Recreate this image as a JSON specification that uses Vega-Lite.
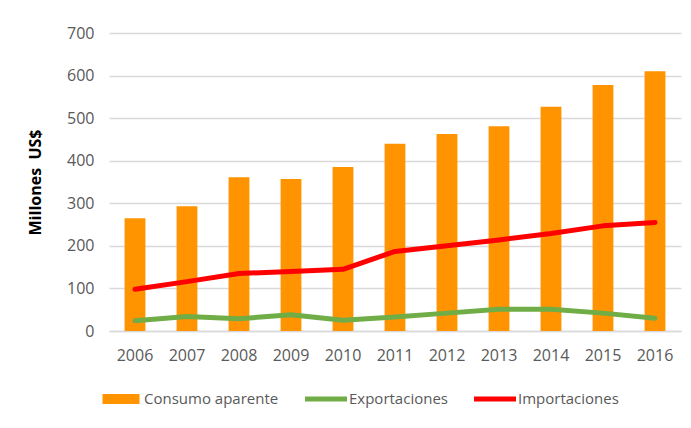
{
  "$schema": "https://vega.github.io/schema/vega-lite/v6.json",
  "width": 572,
  "height": 298,
  "autosize": {"type": "none"},
  "padding": {"left": 109, "top": 33, "right": 10, "bottom": 97},
  "background": "white",
  "config": {
    "view": {"stroke": null},
    "font": "Open Sans"
  },
  "data": {
    "values": [
      {"year": "2006", "series": "Consumo aparente", "value": 265},
      {"year": "2007", "series": "Consumo aparente", "value": 293},
      {"year": "2008", "series": "Consumo aparente", "value": 361},
      {"year": "2009", "series": "Consumo aparente", "value": 357},
      {"year": "2010", "series": "Consumo aparente", "value": 385},
      {"year": "2011", "series": "Consumo aparente", "value": 440},
      {"year": "2012", "series": "Consumo aparente", "value": 463},
      {"year": "2013", "series": "Consumo aparente", "value": 481},
      {"year": "2014", "series": "Consumo aparente", "value": 527},
      {"year": "2015", "series": "Consumo aparente", "value": 578},
      {"year": "2016", "series": "Consumo aparente", "value": 610},
      {"year": "2006", "series": "Exportaciones", "value": 24},
      {"year": "2007", "series": "Exportaciones", "value": 34},
      {"year": "2008", "series": "Exportaciones", "value": 29},
      {"year": "2009", "series": "Exportaciones", "value": 38},
      {"year": "2010", "series": "Exportaciones", "value": 25},
      {"year": "2011", "series": "Exportaciones", "value": 33},
      {"year": "2012", "series": "Exportaciones", "value": 42},
      {"year": "2013", "series": "Exportaciones", "value": 51},
      {"year": "2014", "series": "Exportaciones", "value": 51},
      {"year": "2015", "series": "Exportaciones", "value": 42},
      {"year": "2016", "series": "Exportaciones", "value": 30},
      {"year": "2006", "series": "Importaciones", "value": 98},
      {"year": "2007", "series": "Importaciones", "value": 116},
      {"year": "2008", "series": "Importaciones", "value": 135},
      {"year": "2009", "series": "Importaciones", "value": 140},
      {"year": "2010", "series": "Importaciones", "value": 145},
      {"year": "2011", "series": "Importaciones", "value": 187},
      {"year": "2012", "series": "Importaciones", "value": 200},
      {"year": "2013", "series": "Importaciones", "value": 214},
      {"year": "2014", "series": "Importaciones", "value": 229},
      {"year": "2015", "series": "Importaciones", "value": 247},
      {"year": "2016", "series": "Importaciones", "value": 255}
    ]
  },
  "encoding": {
    "x": {
      "field": "year",
      "type": "nominal",
      "sort": null,
      "scale": {"paddingInner": 0.6, "paddingOuter": 0.3},
      "axis": {
        "title": null,
        "labelAngle": 0,
        "labelFont": "Open Sans",
        "labelFontSize": 16,
        "labelColor": "#595959",
        "labelPadding": 16,
        "ticks": false,
        "tickSize": 0,
        "domainColor": "#d9d9d9",
        "domainWidth": 1.5
      }
    },
    "y": {
      "field": "value",
      "type": "quantitative",
      "scale": {"domain": [0, 700], "nice": false},
      "axis": {
        "title": "Millones\u00a0 US$",
        "values": [0, 100, 200, 300, 400, 500, 600, 700],
        "titleFont": "Open Sans",
        "titleFontSize": 16,
        "titleFontWeight": "bold",
        "titleColor": "#000000",
        "titlePadding": 23,
        "labelFont": "Open Sans",
        "labelFontSize": 16,
        "labelColor": "#595959",
        "labelPadding": 15,
        "ticks": false,
        "tickSize": 0,
        "domain": false,
        "gridColor": "#d9d9d9",
        "gridWidth": 1.5
      }
    },
    "color": {
      "field": "series",
      "type": "nominal",
      "scale": {
        "domain": ["Consumo aparente", "Exportaciones", "Importaciones"],
        "range": ["#FF9300", "#70AD47", "#FF0000"]
      },
      "legend": {
        "title": null,
        "orient": "none",
        "direction": "horizontal",
        "legendX": 2,
        "legendY": 356,
        "padding": 0,
        "symbolSize": 400,
        "labelOffset": 13,
        "columnPadding": 26,
        "labelFont": "Open Sans",
        "labelFontSize": 15,
        "labelColor": "#595959",
        "encode": {
          "symbols": {
            "update": {
              "shape": {"signal": "datum.value === 'Consumo aparente' ? 'M-1.85,-0.5H1.85V0.5H-1.85Z' : 'M-2.1,-0.25H2.1V0.25H-2.1Z'"},
              "fill": {"scale": "color", "field": "value"},
              "stroke": {"value": "transparent"},
              "strokeWidth": {"value": 0},
              "opacity": {"value": 1},
              "fillOpacity": {"value": 1}
            }
          }
        }
      }
    }
  },
  "layer": [
    {
      "transform": [{"filter": "datum.series === 'Consumo aparente'"}],
      "mark": {"type": "bar"}
    },
    {
      "transform": [{"filter": "datum.series !== 'Consumo aparente'"}],
      "mark": {"type": "line", "strokeWidth": 5, "strokeCap": "round", "strokeJoin": "round"}
    }
  ]
}
